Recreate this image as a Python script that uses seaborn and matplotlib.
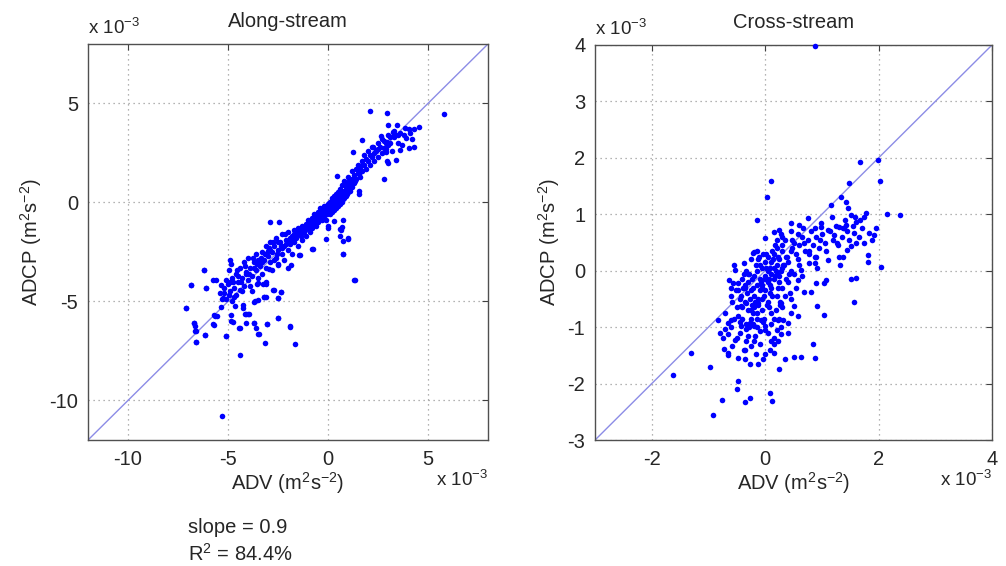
import numpy as np
import pandas as pd
import matplotlib
matplotlib.use("Agg")
import matplotlib.pyplot as plt
import seaborn as sns

# values in units of 1e-3 m^2 s^-2
along_adv = [
    -5.3, -4.38, -1.63, -3.17, -1.92, -2.5, -3.43, -3.07, -3.68, -4.13, -3.98, -4.4, -5.08,
    -6.62, -6.15, -6.68, -6.63, -7.12, -6.85, -6.2, -6.12, -5.77, -5.67, -5.77, -4.87, -4.67,
    -4.27, -3.63, -3.18, -2.72, -2.37, -2.52, -3.12, -3.55, -3.02, -1.85, -1.4, -0.8, 0.73,
    1.02, 1.32, 0.6, 0.58, 0.0, -2.92, -2.43,
    5.82, 2.12, 2.93, 2.98, 3.43, 3.85, 4.07, 4.32, 4.53, 3.9, 4.18, 4.03, 4.32, 3.62, 3.4,
    3.23, 3.32, 2.65, 2.97, 2.98, 2.82, 2.9, 2.95, 3.02, 2.82, 1.7, 2.27, 2.4, 1.23, 0.43,
    1.53, 1.57, 1.07, 0.75, 0.68, 0.65, 1.02, 0.75, 0.75, 1.35, -0.77, -0.02, 0.32,
    -6.18, -6.85, -6.1, -7.1, -5.6, -5.35, -4.88, -4.85, -4.93, -5.18, -5.27, -5.35, -5.68,
    -5.55, -5.68, -6.68, -6.65, -6.6, -6.15, -6.6, -5.1, -4.85, -4.77, -4.27, -4.1, -3.93,
    -4.43, -4.1, -3.68, -3.6, -3.48, -3.05, -2.52, -1.88, -3.18, -3.1, -2.77, -2.52, -2.35,
    -3.68, -3.48, -3.52, -3.27, -3.1, -2.93, -2.52, -2.02, -1.43, -0.1,
    -5.4, -5.2, -5.1, -5.0, -4.9, -4.8, -4.8, -4.7, -4.6, -4.6, -4.5, -4.4, -4.4, -4.3, -4.2,
    -4.2, -4.1, -4.0, -4.0, -3.9, -3.8, -3.8, -3.7, -3.6, -3.6, -3.5, -3.5, -3.4, -3.3, -3.3,
    -3.2, -3.1, -3.1, -3.0, -2.9, -2.9, -2.8, -2.8, -2.7, -2.6, -2.6, -2.5, -2.5, -2.4, -2.3,
    -2.3, -2.2, -2.2, -2.1, -2.0, -2.0, -1.9, -1.8, -1.8, -1.7, -1.7, -1.6, -1.5, -1.5, -1.4,
    -1.3, -1.3, -1.2, -1.1, -1.1, -1.0, -1.0, -0.9, -0.9, -0.8, -0.8, -0.7, -0.7, -0.6, -0.6,
    -0.5, -0.5, -0.4, -0.4, -0.3, -0.3, -0.2, -0.2, -0.1, -0.1, 0.0, 0.0, 0.0, 0.1, 0.1,
    0.1, 0.2, 0.2, 0.2, 0.3, 0.3, 0.3, 0.4, 0.4, 0.4, 0.5, 0.5, 0.5, 0.6, 0.6,
    0.6, 0.7, 0.7, 0.7, 0.8, 0.8, 0.8, 0.9, 0.9, 1.0, 1.0, 1.0, 1.1, 1.1, 1.2,
    1.2, 1.2, 1.3, 1.3, 1.4, 1.4, 1.5, 1.5, 1.6, 1.6, 1.7, 1.7, 1.8, 1.8, 1.9,
    2.0, 2.0, 2.1, 2.2, 2.2, 2.3, 2.4, 2.5, 2.5, 2.6, 2.7, 2.8, 2.9, 3.0, 3.1,
    3.2, 3.3, 3.5, 3.6, 3.7, 3.8, 4.1,
    -0.45, -0.35, -0.25, -0.15, -0.05, 0.05, 0.15, 0.25, 0.35, 0.45, 0.55, 0.65, 0.75, 0.85,
    0.95, -0.55, -0.65, -0.75, -0.85, -0.95, 0.05, -0.05, 0.15, 0.3, 0.25,
    -4.9, -4.7, -4.5, -4.3, -4.1, -3.9, -3.7, -3.5, -3.3, -3.1, -2.9, -2.7, -2.5, -2.3, -2.1,
    -1.9, -1.7, -1.5, -1.3, -1.1, -0.9, -0.7, -0.5, -0.3, -0.1, 0.1, 0.3, 0.5, 0.7, 0.9,
    1.1, 1.3, 1.5, 1.7, 1.9, 2.1, 2.3, 2.5, 2.7, 2.9, 3.1, 3.3, 3.5,
    -1.45, -1.25, -1.05, -0.85, -0.65, -0.45, -0.25, -0.05, 0.15, 0.35, 0.55, 0.75, 0.95,
    1.15, 1.35, 1.55, -1.35, -1.15, -0.95, -0.75, -0.55, -0.35, -0.15, 0.05, 0.25, 0.45,
    0.65, 0.85, 1.05, 1.25,
    -5.3, -5.1, -4.95, -4.75, -4.55, -4.35, -4.15, -3.95, -3.75, -3.55, -3.35, -3.15, -2.95,
    -2.75, -2.55, -2.35, -2.15, -1.95, -1.75, -1.55,
]
along_adcp = [
    -10.77, -7.72, -7.15, -7.1, -6.23, -5.82, -6.65, -6.13, -6.07, -5.63, -5.63, -6.35, -6.77,
    -7.05, -6.7, -6.1, -6.52, -5.32, -4.17, -3.4, -4.3, -3.93, -5.72, -6.15, -5.98, -5.25,
    -5.18, -4.97, -4.77, -4.43, -4.52, -4.85, -4.1, -4.1, -2.48, -3.18, -2.68, -2.35, -2.6,
    -1.85, -3.93, -1.7, -1.35, -1.27, -0.98, -0.98,
    4.48, 4.62, 4.52, 3.93, 3.93, 3.78, 3.73, 3.73, 3.8, 3.23, 3.2, 2.77, 2.82, 2.65, 2.15,
    3.57, 3.43, 3.37, 3.07, 2.9, 2.73, 2.53, 2.07, 1.98, 1.2, 3.15, 2.82, 2.65, 2.57, 1.35,
    0.6, 0.43, 1.03, -0.9, -1.23, -1.4, -1.82, -1.93, -2.6, -3.9, -2.33, -1.18, -0.93,
    -3.4, -4.18, -4.32, -5.32, -3.9, -4.18, -2.93, -3.1, -3.43, -4.6, -4.85, -5.27, -5.68,
    -5.72, -6.2, -6.1, -6.22, -6.52, -6.68, -7.07, -6.77, -5.68, -6.02, -5.35, -5.65, -5.65,
    -6.32, -6.1, -6.1, -6.35, -6.65, -6.15, -5.85, -6.27, -4.77, -4.77, -4.4, -4.85, -4.52,
    -5.02, -4.93, -4.07, -4.1, -4.02, -3.35, -3.18, -3.32, -2.68, -1.85,
    -4.6, -4.3, -4.9, -4.1, -4.5, -3.8, -5.0, -4.3, -3.6, -4.7, -4.0, -4.4, -3.3, -3.8, -4.2,
    -3.0, -3.5, -3.9, -2.8, -3.3, -3.7, -4.5, -3.0, -3.4, -2.6, -3.8, -2.9, -3.2, -2.5, -3.6,
    -2.9, -3.3, -2.2, -2.7, -3.0, -2.0, -2.5, -3.4, -2.2, -2.8, -1.8, -2.4, -3.1, -2.0, -2.6,
    -1.6, -2.2, -2.9, -1.9, -2.4, -1.5, -2.1, -1.7, -2.6, -1.4, -2.0, -1.8, -1.3, -2.2, -1.6,
    -1.2, -1.9, -1.5, -1.1, -1.7, -1.3, -0.9, -1.5, -1.1, -0.8, -1.3, -1.0, -0.6, -1.2, -0.8,
    -0.5, -1.0, -0.7, -0.3, -0.9, -0.5, -0.2, -0.7, -0.4, -0.9, -0.1, -0.5, -0.3, -0.6, 0.0,
    -0.3, -0.2, -0.5, 0.2, -0.1, -0.4, 0.3, 0.0, -0.3, 0.4, 0.1, -0.2, 0.5, 0.2, -0.1,
    0.7, 0.4, 0.0, 0.9, 0.5, 0.2, 1.1, 0.7, 0.3, 0.9, 0.5, 1.3, 1.0, 0.6, 1.2,
    0.8, 1.6, 1.4, 1.0, 1.7, 1.2, 1.5, 1.9, 1.3, 1.8, 2.1, 1.6, 1.9, 2.4, 1.7,
    2.1, 2.6, 1.9, 2.3, 2.8, 2.1, 2.6, 3.0, 2.3, 2.8, 2.5, 3.1, 2.7, 3.4, 3.0,
    2.6, 3.3, 3.0, 3.5, 2.9, 3.4, 3.5,
    -0.65, -0.55, -0.45, -0.55, -0.25, -0.45, -0.15, -0.35, 0.05, -0.15, 0.25, 0.35, 0.15, 0.6,
    0.4, -0.95, -0.75, -1.15, -0.95, -1.25, -0.05, -0.6, -0.4, -0.2, 0.1,
    -4.0, -4.8, -3.7, -4.5, -3.6, -4.2, -3.3, -3.1, -3.0, -2.6, -2.4, -2.9, -2.0, -2.3, -2.1,
    -1.8, -1.6, -1.6, -1.5, -1.3, -1.2, -0.9, -0.7, -0.6, -0.2, -0.15, 0.15, 0.3, 0.6, 1.0,
    0.8, 1.2, 1.7, 1.9, 2.2, 2.4, 2.5, 2.7, 3.2, 3.0, 3.3, 3.6, 3.4,
    -1.45, -1.35, -1.2, -1.0, -0.95, -0.75, -0.6, -0.35, -0.25, 0.0, 0.15, 0.45, 0.7,
    0.95, 1.1, 1.45, -1.7, -1.4, -0.95, -1.05, -0.7, -0.45, -0.35, -0.2, 0.0, 0.2,
    0.5, 0.9, 1.1, 1.05,
    -4.9, -3.9, -4.7, -4.0, -3.4, -4.0, -3.2, -3.6, -2.8, -3.1, -2.8, -2.6, -2.3,
    -2.0, -2.6, -2.2, -1.6, -2.0, -1.9, -1.5,
]

cross_adv = [
    0.88, 1.67, 1.99, 2.02, 1.48, 0.1, 0.04, -0.14, 2.15, 2.37, 1.77, 2.04, 1.57, 1.52, 1.61,
    1.04, 0.91, 0.84, 0.88, 0.64, 0.5, 0.35, 0.25, 0.08, 0.12, -0.26, -0.35, -0.48, -0.49,
    -0.77, -0.92, -0.98, -1.31, -1.63, -0.84, -0.26, -0.13, -0.03, -0.65, -0.73, -0.54, -0.55,
    -0.37, -0.19, -0.22, -0.01, 0.16, 0.25, 0.28, 0.46, 0.6, 0.75, 0.98, 1.1, 1.16, 1.33,
    1.42, 1.46, 1.51, 1.6, 1.68, 1.74, 1.3, 1.39, 1.42, 1.22, 1.27, 1.57, 1.6, 1.74, 1.83,
    1.89, 1.92, 1.95, 1.81, 1.81, 1.3, 1.32, 1.38, 1.45, 1.51, 1.1, 0.89, 0.92, 0.87, 0.78,
    0.63, 0.57, 0.69, 0.8, 0.89, 1.04, 1.07, 0.43, 0.46, 0.51, 0.57, 0.28, 0.19, 0.22, 0.31,
    0.4, 0.28, 0.28, 0.16, 0.11, 0.22, 0.08, 0.16, -0.01, -0.17, -0.25, -0.33, -0.37, -0.36,
    -0.48, -0.58, -0.54, -0.65, -0.7, -0.65, -0.6, -0.48, -0.42, -0.33, -0.27, -0.19, -0.1,
    -0.07, -0.01, 0.05, -0.42, -0.33, -0.25, -0.13, -0.6, -0.51, -0.42, -0.63, -0.57, -0.48,
    -0.39,
    -0.3, -0.25, -0.2, -0.2, -0.15, -0.15, -0.1, -0.1, -0.1, -0.05, -0.05, -0.05, 0.0, 0.0,
    0.0, 0.05, 0.05, 0.05, 0.1, 0.1, 0.1, 0.15, 0.15, 0.15, 0.2, 0.2, 0.2, 0.25, 0.25, 0.3,
    0.3, -0.35, -0.35, -0.4, -0.3, -0.25, -0.2, -0.15, -0.05, 0.05, 0.1, 0.2, 0.3, -0.45,
    -0.5, -0.55, -0.6, -0.45, -0.3, -0.2, -0.1, 0.0, 0.1, 0.2, 0.3, 0.35, 0.4, 0.4, 0.45,
    0.5, 0.55, 0.6, 0.65, 0.7, 0.75, 0.8, 0.85, 0.9, 0.95, 1.0, 1.05, 1.15, 1.2, 1.25, 1.35,
    1.4, 1.45, 1.55, 1.65, 1.7, 0.5, 0.6, 0.35, 0.45, 0.3, 0.2, 0.55, 0.65, -0.15, -0.25,
    -0.4, -0.5, -0.35, -0.15, 0.15, 0.4, 0.45, 0.25, -0.6, -0.7, -0.75, -0.8, -0.65,
    -0.28, -0.22, -0.18, -0.12, -0.08, -0.02, 0.02, 0.08, 0.12, 0.18, 0.22, 0.28, -0.32,
    -0.12, 0.02, 0.12, 0.22, -0.22, -0.02, 0.08, 0.38, 0.48, 0.58, 0.68, 0.78, 0.88, 0.98,
    1.08, 1.18, 1.28, 1.38, 1.48, 1.58, -0.38, -0.48, -0.58, -0.28, -0.18, 0.32, 0.42,
    -0.36, -0.26, -0.16, -0.06, 0.04, 0.14, 0.24, 0.34, -0.31, -0.21, -0.11, -0.01, 0.09,
    0.19, 0.29, -0.41, -0.33, -0.23, -0.13, -0.03, 0.07, 0.17, 0.27, 0.37, 0.47, 0.57, 0.67,
    0.77, 0.87, 0.97, -0.44, -0.34, -0.24, -0.14, -0.04, 0.06, 0.16, 0.26, 0.36, 0.46,
]
cross_adcp = [
    3.99, 1.93, 1.97, 1.59, 1.55, 1.59, 1.3, 0.9, 1.0, 0.98, 1.02, 0.06, -0.56, -0.14, -0.13,
    -0.78, -0.63, -1.3, -1.54, -1.53, -1.53, -1.57, -1.75, -2.16, -2.31, -2.25, -2.33, -1.96,
    -2.09, -2.29, -2.56, -1.71, -1.45, -1.85, -0.88, -1.65, -1.65, -1.56, -1.5, -1.38, 0.02,
    0.1, 0.14, 0.34, 0.31, 0.58, 0.69, 0.72, 0.65, 0.85, 0.81, 0.93, 0.78, 0.72, 1.17, 1.31,
    1.21, 1.11, 0.99, 0.87, 0.9, 0.96, 0.78, 0.75, 0.81, 0.64, 0.49, 0.66, 0.49, 0.49, 0.66,
    0.55, 0.64, 0.75, 0.28, 0.16, 0.25, 0.1, 0.25, 0.37, 0.43, 0.19, 0.25, 0.05, 0.14, 0.14,
    0.02, -0.16, -0.37, -0.37, -0.22, -0.22, -0.16, -0.39, -0.51, -0.63, -0.81, -0.57, -0.69,
    -0.87, -0.87, -0.92, -0.99, -1.13, -1.19, -1.25, -1.25, -1.4, -1.45, -1.48, -1.48, -1.34,
    -1.25, -1.4, -1.57, -1.54, -1.34, -1.22, -1.13, -1.04, -0.92, -0.87, -0.81, -0.98, -1.04,
    -0.92, -0.98, -1.07, -0.87, -0.98, -1.1, -0.63, -0.57, -0.69, -0.57, -0.45, -0.34, -0.45,
    -0.16, -0.22, -0.22, -0.31,
    -0.2, -0.35, -0.1, -0.45, -0.25, 0.0, -0.35, -0.15, 0.1, -0.5, -0.25, 0.05, -0.1, -0.35,
    0.15, -0.2, 0.0, 0.25, -0.05, -0.3, 0.15, 0.05, -0.15, 0.3, 0.1, -0.05, 0.4, 0.2, -0.2,
    0.35, 0.05, -0.3, -0.55, -0.15, -0.7, -0.85, -0.65, -0.75, -0.7, -0.55, -0.75, -0.45,
    -0.3, -0.5, -0.65, -0.85, -1.0, -1.1, -1.15, -1.25, -1.3, -1.05, -0.95, -1.05, -0.65,
    -0.45, -0.2, 0.15, 0.35, 0.5, 0.3, 0.45, 0.6, 0.35, 0.55, 0.7, 0.45, 0.6, 0.4, 0.65, 0.5,
    0.7, 0.55, 0.8, 0.6, 0.9, 0.7, 0.8, 0.6, 0.75, -0.05, 0.1, 0.55, 0.7, 0.6, 0.55, -0.3,
    -0.1, 0.35, 0.2, -0.85, -1.2, -1.4, -1.0, -1.3, -1.1, -0.75, -0.85, -0.3, -0.75, -1.2,
    -1.1, -1.45,
    -0.05, -0.3, -0.55, 0.2, -0.2, -0.45, 0.05, -0.25, 0.35, -0.1, 0.25, 0.0, -0.4,
    -0.6, 0.3, -0.45, -0.3, -0.95, -0.85, 0.05, 0.25, 0.4, 0.65, 0.5, 0.3, 0.75, 0.85,
    0.35, 0.95, 0.45, 0.75, 0.55, 0.95, -0.05, -0.35, -0.55, -1.0, -1.15, 0.1, -0.05,
    -0.25, -0.5, 0.1, -0.3, -0.6, 0.2, -0.1, 0.1, -0.05, -0.75, 0.25, -0.15, -0.4,
    0.0, 0.45, -0.65, 0.0, -0.15, -0.5, 0.3, -0.15, 0.45, -0.55, 0.25, 0.55, 0.2, 0.75,
    0.35, 0.25, 0.55, -0.9, -0.95, -0.6, -0.85, -0.9, -0.65, -0.85, -0.6, -0.15, 0.0,
]

panels = [
    ("Along-stream", along_adv, along_adcp, (-12, 8), [-10, -5, 0, 5], [-10, -5, 0, 5]),
    ("Cross-stream", cross_adv, cross_adcp, (-3, 4), [-2, 0, 2, 4], [-3, -2, -1, 0, 1, 2, 3, 4]),
]

sns.set_style("white")
plt.rcParams["font.family"] = ["Liberation Sans", "DejaVu Sans"]
plt.rcParams["mathtext.fontset"] = "custom"
plt.rcParams["mathtext.rm"] = "Liberation Sans"
plt.rcParams["mathtext.it"] = "Liberation Sans"
plt.rcParams["axes.unicode_minus"] = False

fig = plt.figure(figsize=(10.06, 5.66), dpi=100)
rects = [[0.0875, 0.2226, 0.3976, 0.6997], [0.5915, 0.2226, 0.3946, 0.6979]]
fs = 14.5

for rect, (title, xs, ys, lim, xt, yt) in zip(rects, panels):
    ax = fig.add_axes(rect)
    df = pd.DataFrame({"ADV": xs, "ADCP": ys})
    ax.axline((0, 0), slope=1, color="#8c8ce6", lw=1.0, zorder=1)
    sns.scatterplot(data=df, x="ADV", y="ADCP", ax=ax, color="#0000ff", s=16,
                    linewidth=0, zorder=3, clip_on=False)
    ax.set_xlim(lim)
    ax.set_ylim(lim)
    ax.set_xticks(xt)
    ax.set_yticks(yt)
    ax.grid(True, linestyle=(0, (1, 3)), color="#9a9a9a", lw=0.9)
    ax.tick_params(direction="in", length=4, top=True, right=True, labelsize=fs,
                   color="#404040", pad=7)
    for sp in ax.spines.values():
        sp.set_color("#505050")
        sp.set_linewidth(1.0)
    ax.set_title(title, fontsize=fs, pad=12)
    ax.set_xlabel("ADV (m$^2$s$^{-2}$)", fontsize=fs, labelpad=1)
    ax.set_ylabel("ADCP (m$^2$s$^{-2}$)", fontsize=fs, labelpad=4)
    ax.text(0.0, 1.015, "x 10$^{-3}$", transform=ax.transAxes, fontsize=fs - 1,
            ha="left", va="bottom")
    ax.text(1.0, -0.075, "x 10$^{-3}$", transform=ax.transAxes, fontsize=fs - 1,
            ha="right", va="top")

fig.text(0.187, 0.068, "slope = 0.9", fontsize=fs, ha="left", va="center")
fig.text(0.187, 0.022, "R$^2$ = 84.4%", fontsize=fs, ha="left", va="center")

fig.savefig("out.png", dpi=100, facecolor="white")
